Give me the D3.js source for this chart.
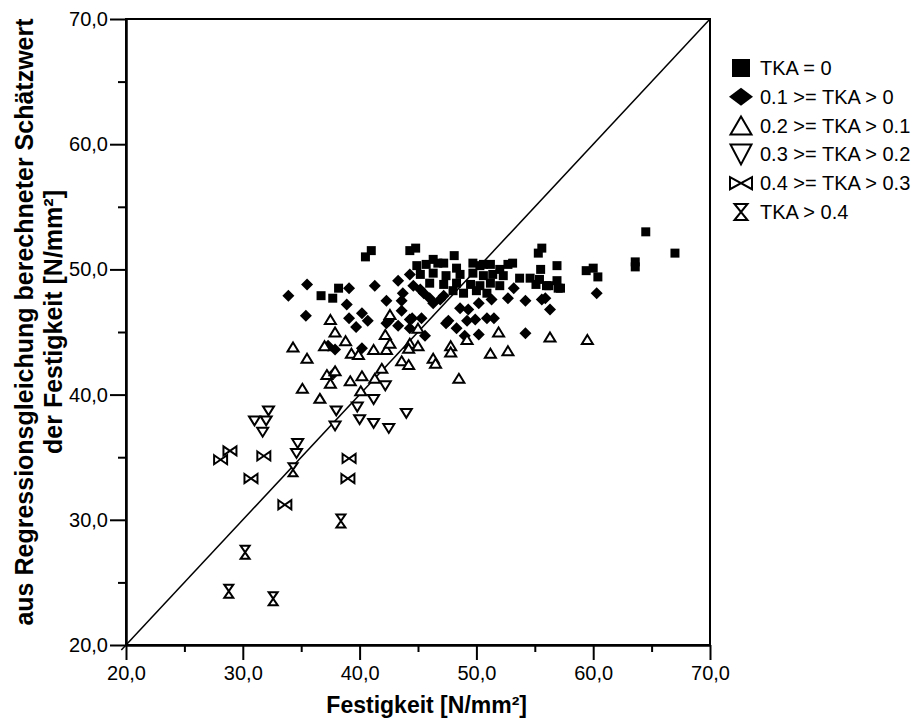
<!DOCTYPE html>
<html>
<head>
<meta charset="utf-8">
<script src="https://cdn.jsdelivr.net/npm/d3@7"></script>
<style>
  body { margin: 0; background: #fff; }
  text { font-family: Arial, "Liberation Sans", sans-serif; fill: #000; }
</style>
</head>
<body>
<svg id="chart" width="917" height="722"></svg>
<script>
// values: [Festigkeit, Schätzwert]
const tka0 = [
  [36.7,47.9],[37.7,47.7],[38.2,48.5],[40.5,51.0],[41.0,51.5],[44.3,51.5],[44.8,51.7],[48.1,51.1],
  [55.3,51.3],[55.6,51.7],[44.9,50.3],[45.7,50.4],[46.7,50.5],[48.3,50.1],[49.7,50.5],[50.3,50.3],
  [51.2,50.4],[52.0,50.0],[52.7,50.4],[45.2,49.6],[46.3,49.7],[47.4,49.5],[48.6,49.6],[49.7,49.7],
  [50.6,49.5],[51.4,49.6],[52.3,49.5],[46.0,48.9],[47.2,48.8],[48.3,48.9],[49.5,48.8],[50.3,48.7],
  [51.2,48.9],[52.0,48.7],[48.9,48.1],[50.0,48.3],[50.9,48.1],[48.0,48.3],[46.3,50.8],[47.2,50.5],
  [50.6,50.4],[53.1,50.5],[53.7,49.3],[54.6,49.3],[55.4,49.2],[55.5,50.0],[56.9,50.3],[56.9,49.1],
  [57.2,48.5],[56.2,48.7],[55.1,48.8],[56.0,48.7],[57.0,48.5],[59.4,49.9],[60.0,50.1],[60.4,49.4],
  [63.6,50.6],[63.6,50.2],[64.5,53.0],[67.0,51.3]
];
const tka01 = [
  [33.9,47.9],[35.5,48.8],[35.4,46.3],[37.3,43.9],[37.9,43.6],[37.8,41.7],[39.1,48.5],[41.3,48.7],
  [43.3,49.1],[44.3,49.6],[38.9,47.2],[39.1,46.1],[40.2,46.5],[40.7,45.9],[39.7,45.4],[42.3,47.5],
  [43.6,47.5],[43.7,48.1],[43.6,46.7],[42.5,45.9],[43.3,45.5],[44.3,46.0],[45.3,46.1],[44.3,45.3],
  [45.6,44.7],[40.2,43.7],[48.6,46.9],[49.3,46.8],[50.2,47.3],[51.3,47.6],[52.7,47.7],[54.2,47.5],
  [55.6,47.6],[56.3,46.8],[47.6,45.9],[48.3,45.3],[49.2,45.9],[49.9,46.0],[50.9,46.1],[51.5,46.1],
  [49.0,44.7],[50.2,44.8],[54.2,44.9],[45.2,48.4],[46.0,47.7],[46.9,47.6],[44.6,48.7],[45.5,48.1],
  [46.3,47.3],[44.5,46.1],[42.3,45.7],[47.4,45.7],[60.3,48.1],[53.2,48.5],[55.9,47.7],[47.2,47.9]
];
const tka02 = [
  [37.5,46.0],[37.9,45.0],[34.3,43.8],[35.5,42.9],[37.0,43.9],[37.2,41.6],[37.9,41.9],[37.5,40.9],
  [35.1,40.5],[36.6,39.7],[38.8,44.3],[39.3,43.3],[39.9,43.2],[41.2,43.6],[42.3,43.6],[42.2,44.8],
  [42.6,44.1],[44.3,44.1],[45.0,43.9],[45.0,45.3],[43.6,42.7],[44.2,42.4],[46.3,42.9],[46.5,42.5],
  [47.8,43.9],[47.8,43.4],[51.2,43.3],[52.7,43.5],[51.9,45.0],[56.3,44.6],[59.5,44.4],[48.5,41.3],
  [41.9,42.1],[41.3,41.3],[40.2,41.5],[39.2,41.1],[40.1,40.3],[42.6,46.4],[44.2,43.7],[49.2,44.4]
];
const tka03 = [
  [32.2,38.7],[31.0,37.9],[32.0,37.9],[31.7,37.0],[38.0,38.7],[37.9,37.5],[34.7,36.1],[34.6,35.3],
  [39.8,39.0],[40.0,38.0],[41.2,37.7],[42.5,37.3],[44.0,38.5],[42.2,40.7],[41.2,39.6]
];
const tka04 = [
  [28.9,35.5],[28.1,34.8],[31.8,35.1],[30.7,33.3],[33.6,31.2],[39.1,34.9],[39.0,33.3]
];
const tka05 = [
  [38.4,29.9],[30.2,27.4],[28.8,24.3],[32.6,23.7],[34.3,34.0]
];

const legendLabels = ["TKA = 0", "0.1 >= TKA > 0", "0.2 >= TKA > 0.1",
                      "0.3 >= TKA > 0.2", "0.4 >= TKA > 0.3", "TKA > 0.4"];
const majorTicks = [20, 30, 40, 50, 60, 70];
const minorTicks = [25, 35, 45, 55, 65];

const svg = d3.select("#chart");
const x = d3.scaleLinear().domain([20, 70]).range([126, 710]);
const y = d3.scaleLinear().domain([20, 70]).range([645, 19]);

const de = d3.formatLocale({ decimal: ",", thousands: ".", grouping: [3], currency: ["", "€"] });
const fmt = de.format(".1f");

// marker shapes, w = width, h = height, centred on 0,0
function shape(kind, w, h) {
  const a = w / 2, b = h / 2;
  switch (kind) {
    case "square": return `M${-a},${-b}H${a}V${b}H${-a}Z`;
    case "diamond": return `M0,${-b}L${a},0L0,${b}L${-a},0Z`;
    case "up": return `M0,${-b}L${a},${b}L${-a},${b}Z`;
    case "down": return `M${-a},${-b}L${a},${-b}L0,${b}Z`;
    case "bowtie": return `M${-a},${-b}L${a},${b}V${-b}L${-a},${b}Z`;
    case "hourglass": return `M${-a},${-b}H${a}L${-a},${b}H${a}Z`;
  }
}

const series = [
  { data: tka0, kind: "square", w: 9, h: 9, filled: true, lw: 18, lh: 18 },
  { data: tka01, kind: "diamond", w: 12, h: 12, filled: true, lw: 24, lh: 18 },
  { data: tka02, kind: "up", w: 11, h: 9, filled: false, lw: 21, lh: 18 },
  { data: tka03, kind: "down", w: 11, h: 9, filled: false, lw: 21, lh: 20 },
  { data: tka04, kind: "bowtie", w: 13, h: 9, filled: false, lw: 22, lh: 12 },
  { data: tka05, kind: "hourglass", w: 9, h: 13, filled: false, lw: 13, lh: 16 }
];

// frame
svg.append("rect")
  .attr("x", 126).attr("y", 19)
  .attr("width", 710 - 126).attr("height", 645 - 19)
  .attr("fill", "none").attr("stroke", "#000").attr("stroke-width", 2);

// diagonal
svg.append("line")
  .attr("x1", x(19.6)).attr("y1", y(19.6))
  .attr("x2", x(70)).attr("y2", y(70))
  .attr("stroke", "#000").attr("stroke-width", 1.5);

// axes
function styleAxis(g) {
  g.select(".domain").attr("stroke-width", 2);
  g.selectAll(".tick line").attr("stroke-width", 2);
  g.selectAll(".tick text").attr("font-size", 20).attr("font-family", "Arial, 'Liberation Sans', sans-serif");
}

svg.append("g").attr("transform", "translate(0,645)")
  .call(d3.axisBottom(x).tickValues(minorTicks).tickSize(7).tickSizeOuter(0).tickFormat(""))
  .call(styleAxis);
svg.append("g").attr("transform", "translate(0,645)")
  .call(d3.axisBottom(x).tickValues(majorTicks).tickSize(15).tickSizeOuter(0).tickPadding(6).tickFormat(fmt))
  .call(styleAxis);

svg.append("g").attr("transform", "translate(126,0)")
  .call(d3.axisLeft(y).tickValues(minorTicks).tickSize(8).tickSizeOuter(0).tickFormat(""))
  .call(styleAxis);
svg.append("g").attr("transform", "translate(126,0)")
  .call(d3.axisLeft(y).tickValues(majorTicks).tickSize(16).tickSizeOuter(0).tickPadding(2).tickFormat(fmt))
  .call(styleAxis);

// points
series.forEach(s => {
  svg.append("g").selectAll("path")
    .data(s.data)
    .join("path")
    .attr("transform", d => `translate(${x(d[0])},${y(d[1])})`)
    .attr("d", shape(s.kind, s.w, s.h))
    .attr("fill", s.filled ? "#000" : "#fff")
    .attr("stroke", "#000")
    .attr("stroke-width", s.filled ? 0 : 2)
    .attr("stroke-linejoin", "miter");
});

// axis titles
svg.append("text")
  .attr("x", 527).attr("y", 713)
  .attr("text-anchor", "end")
  .attr("font-size", 23).attr("font-weight", "bold")
  .text("Festigkeit [N/mm²]");

const yTitle = svg.append("text")
  .attr("transform", "translate(0,322) rotate(-90)")
  .attr("text-anchor", "middle")
  .attr("font-size", 25).attr("font-weight", "bold");
yTitle.append("tspan").attr("x", 0).attr("y", 33).text("aus Regressionsgleichung berechneter Schätzwert");
yTitle.append("tspan").attr("x", 0).attr("y", 62).text("der Festigkeit [N/mm²]");

// legend
const legend = svg.append("g").attr("transform", "translate(741,68)");
const rows = legend.selectAll("g")
  .data(series)
  .join("g")
  .attr("transform", (d, i) => `translate(0,${i * 28.8})`);
rows.append("path")
  .attr("d", d => shape(d.kind, d.lw, d.lh))
  .attr("fill", d => d.filled ? "#000" : "#fff")
  .attr("stroke", "#000")
  .attr("stroke-width", d => d.filled ? 0 : 2);
rows.append("text")
  .attr("x", 19).attr("dy", "0.35em")
  .attr("font-size", 20)
  .text((d, i) => legendLabels[i]);
</script>
</body>
</html>
